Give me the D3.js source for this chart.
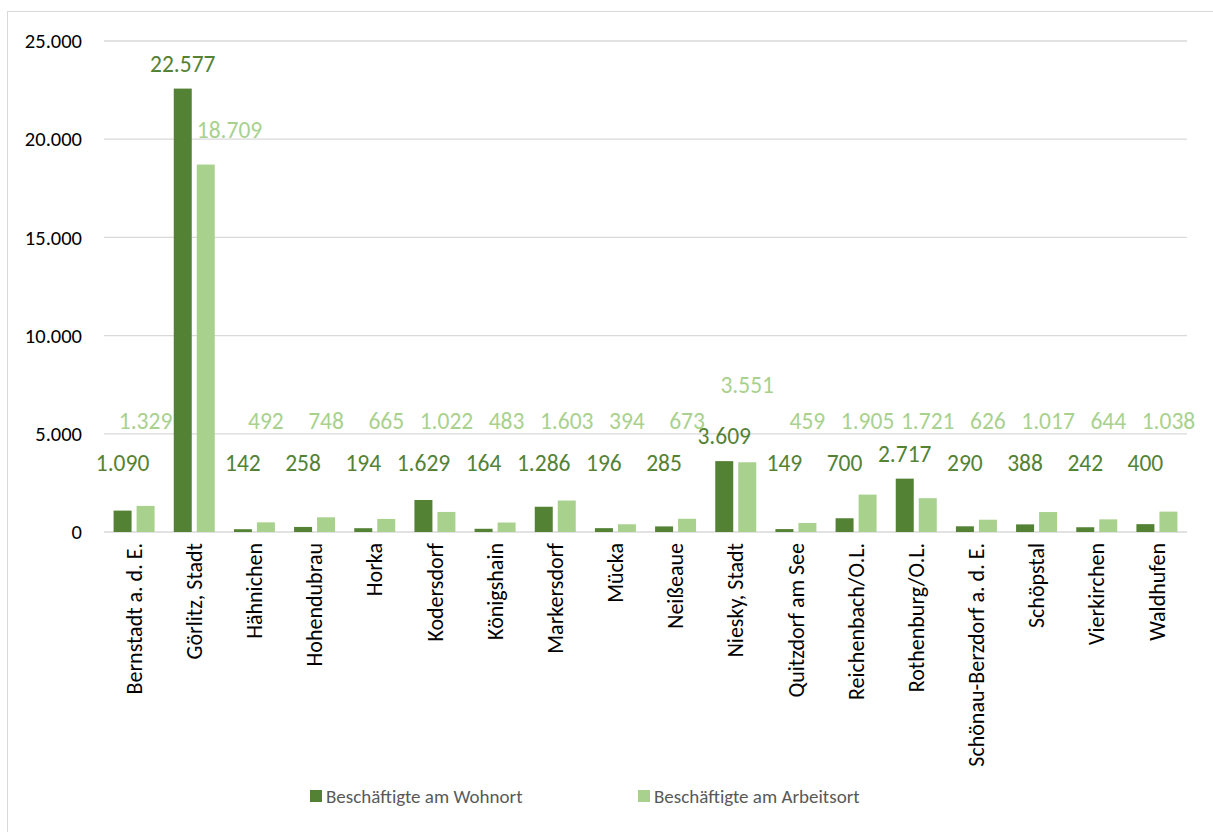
<!DOCTYPE html>
<html>
<head>
<meta charset="utf-8">
<script src="https://cdn.jsdelivr.net/npm/d3@7"></script>
<style>
  body { margin: 0; background: #fff; }
  svg { font-family: Carlito, Calibri, Lato, sans-serif; }
</style>
</head>
<body>
<svg id="chart" width="1213" height="832"></svg>
<script>
var categories = ["Bernstadt a. d. E.", "Görlitz, Stadt", "Hähnichen", "Hohendubrau", "Horka",
    "Kodersdorf", "Königshain", "Markersdorf", "Mücka", "Neißeaue", "Niesky, Stadt",
    "Quitzdorf am See", "Reichenbach/O.L.", "Rothenburg/O.L.", "Schönau-Berzdorf a. d. E.",
    "Schöpstal", "Vierkirchen", "Waldhufen"];
var wohnort = [1090, 22577, 142, 258, 194, 1629, 164, 1286, 196, 285, 3609, 149, 700, 2717, 290, 388, 242, 400];
var arbeitsort = [1329, 18709, 492, 748, 665, 1022, 483, 1603, 394, 673, 3551, 459, 1905, 1721, 626, 1017, 644, 1038];
var seriesNames = ["Beschäftigte am Wohnort", "Beschäftigte am Arbeitsort"];
var yTicks = [0, 5000, 10000, 15000, 20000, 25000];

var colors = ["#548235", "#a9d18e"];
var svg = d3.select("#chart");

// outer frame
svg.append("rect")
    .attr("x", 7.5).attr("y", 11.5)
    .attr("width", 1210).attr("height", 830)
    .style("fill", "none")
    .style("stroke", "#d9d9d9");

var plotLeft = 104, plotRight = 1187, plotTop = 41, plotBottom = 532;

var x = d3.scaleBand()
    .domain(categories)
    .range([plotLeft, plotRight]);

var y = d3.scaleLinear()
    .domain([0, 25000])
    .range([plotBottom, plotTop]);

var fmt = function (v) { return d3.format(",")(v).replace(/,/g, "."); };

// gridlines
svg.append("g")
    .selectAll("line")
    .data(yTicks)
    .enter()
    .append("line")
    .attr("x1", plotLeft).attr("x2", plotRight)
    .attr("y1", function (d) { return y(d); })
    .attr("y2", function (d) { return y(d); })
    .style("stroke", "#d9d9d9")
    .style("stroke-width", 1.3);

// y axis labels
svg.append("g")
    .selectAll("text")
    .data(yTicks)
    .enter()
    .append("text")
    .attr("x", 82)
    .attr("y", function (d) { return y(d); })
    .attr("dy", "0.35em")
    .attr("text-anchor", "end")
    .style("font-size", "20.5px")
    .style("fill", "#000")
    .text(function (d) { return fmt(d); });

var barW = 18, offset = 11.5;
var series = [wohnort, arbeitsort];
// label floors and padding (Excel puts small labels into one band)
var labelFloor = [2230, 3860], labelPad = [25, 35];

function barCenter(si, i) {
    return x(categories[i]) + x.bandwidth() / 2 + (si === 0 ? -1 : 1) * offset;
}

function labelY(si, i) {
    var yy = y(Math.max(series[si][i], labelFloor[si])) - labelPad[si];
    if (si === 1) {
        // keep the light label clear of the dark one
        var dy = labelY(0, i);
        if (Math.abs(yy - dy) < 25) yy = dy - 51;
    }
    return yy;
}

// light label sits next to a taller dark bar -> push it right
function shiftRight(si, i) {
    return si === 1 && y(series[0][i]) < labelY(1, i);
}

series.forEach(function (vals, si) {
    var g = svg.append("g");
    g.selectAll("rect")
        .data(vals)
        .enter()
        .append("rect")
        .attr("x", function (d, i) { return barCenter(si, i) - barW / 2; })
        .attr("y", function (d) { return y(d); })
        .attr("width", barW)
        .attr("height", function (d) { return plotBottom - y(d); })
        .style("fill", colors[si]);

    g.selectAll("text")
        .data(vals)
        .enter()
        .append("text")
        .attr("x", function (d, i) {
            return shiftRight(si, i) ? barCenter(si, i) - barW / 2 : barCenter(si, i);
        })
        .attr("y", function (d, i) { return labelY(si, i); })
        .attr("dy", "0.35em")
        .attr("text-anchor", function (d, i) { return shiftRight(si, i) ? "start" : "middle"; })
        .style("font-size", "23.5px")
        .style("fill", colors[si])
        .text(function (d) { return fmt(d); });
});

// category labels
svg.append("g")
    .selectAll("text")
    .data(categories)
    .enter()
    .append("text")
    .attr("transform", function (d) {
        return "translate(" + (x(d) + x.bandwidth() / 2) + "," + 543 + ") rotate(-90)";
    })
    .attr("dy", "0.35em")
    .attr("text-anchor", "end")
    .style("font-size", "22px")
    .style("fill", "#000")
    .text(function (d) { return d; });

// legend
var legendX = [310, 638];
var legend = svg.append("g");
seriesNames.forEach(function (name, i) {
    legend.append("rect")
        .attr("x", legendX[i]).attr("y", 790)
        .attr("width", 12).attr("height", 12)
        .style("fill", colors[i]);
    legend.append("text")
        .attr("x", legendX[i] + 16).attr("y", 796)
        .attr("dy", "0.35em")
        .style("font-size", "19px")
        .style("fill", "#595959")
        .text(name);
});
</script>
</body>
</html>
